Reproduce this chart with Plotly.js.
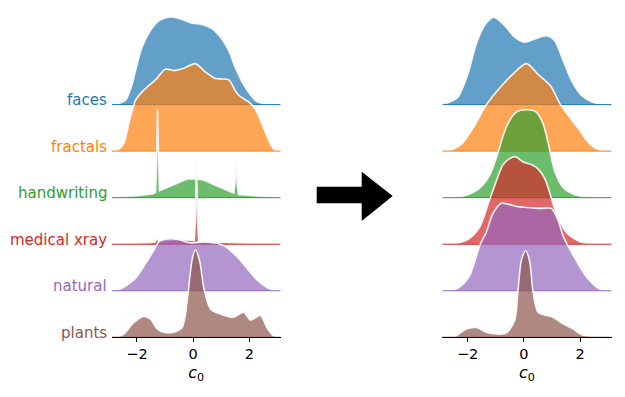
<!DOCTYPE html>
<html>
<head>
<meta charset="utf-8">
<script src="https://cdn.plot.ly/plotly-3.0.1.min.js"></script>
<style>
  html, body { margin: 0; padding: 0; background: #fff; }
  #chart { width: 625px; height: 397px; }
</style>
</head>
<body>
<div id="chart"></div>
<script>
// categories, top row first
var categories = ["faces", "fractals", "handwriting", "medical xray", "natural", "plants"];
var colors = ["#1f77b4", "#ff7f0e", "#2ca02c", "#d62728", "#9467bd", "#8c564b"];
var fills = ["rgba(31,119,180,0.7)", "rgba(255,127,14,0.7)", "rgba(44,160,44,0.7)",
             "rgba(214,39,40,0.7)", "rgba(148,103,189,0.7)", "rgba(140,86,75,0.7)"];
var tickVals = [-2, 0, 2];
var tickText = ["\u22122", "0", "2"];

// before (left panel) density curves
var xFacesL = [-2.9, -2.7, -2.41, -2.2, -2.05, -1.82, -1.52, -1.22, -0.99, -0.69, -0.39, -0.04, 0.32, 0.68, 0.97, 1.27, 1.5, 1.86, 2.22, 2.57, 2.9, 3.12];
var dFacesL = [0, 0.02, 0.09, 0.38, 0.73, 1.23, 1.59, 1.80, 1.86, 1.88, 1.83, 1.75, 1.72, 1.63, 1.45, 1.16, 0.80, 0.37, 0.09, 0.01, 0, 0];

var xFractalsL = [-2.9, -2.7, -2.47, -2.29, -2.05, -1.76, -1.34, -0.99, -0.69, -0.33, 0.08, 0.44, 0.79, 1.03, 1.27, 1.57, 1.86, 1.98, 2.22, 2.45, 2.75, 2.93, 3.12];
var dFractalsL = [0, 0.02, 0.16, 0.59, 1.09, 1.31, 1.53, 1.76, 1.73, 1.78, 1.88, 1.70, 1.56, 1.55, 1.53, 1.24, 1.10, 1.06, 0.90, 0.59, 0.16, 0.01, 0];

var xHandL = [-2.9, -2.7, -2.0, -1.76, -1.45, -1.34, -1.31, -1.27, -1.23, -1.2, -1.16, -0.93, -0.57, -0.21, 0.12, 0.38, 0.85, 1.15, 1.33, 1.45, 1.49, 1.53, 1.57, 1.61, 1.8, 2.2, 2.7, 3.12];
var dHandL = [0, 0.02, 0.04, 0.06, 0.08, 0.11, 0.5, 1.9, 0.5, 0.14, 0.16, 0.22, 0.32, 0.40, 0.40, 0.38, 0.25, 0.17, 0.13, 0.10, 0.3, 0.88, 0.3, 0.07, 0.06, 0.04, 0.02, 0];

var xMedL = [-2.9, -2.0, -1.5, -1.35, -1.28, -1.22, -1.0, -0.6, -0.2, 0.04, 0.08, 0.12, 0.16, 0.2, 0.5, 1.0, 1.5, 2.0, 2.5, 3.12];
var dMedL = [0, 0.01, 0.03, 0.05, 0.14, 0.06, 0.08, 0.10, 0.09, 0.08, 0.5, 1.89, 0.5, 0.06, 0.05, 0.04, 0.02, 0.01, 0, 0];

var xNatL = [-2.9, -2.59, -2.11, -1.76, -1.40, -1.22, -1.05, -0.75, -0.45, -0.1, 0.38, 0.85, 1.15, 1.44, 1.57, 1.92, 2.28, 2.63, 2.9, 3.12];
var dNatL = [0, 0.04, 0.23, 0.52, 0.87, 1.05, 1.10, 1.12, 1.09, 1.03, 1.05, 1.02, 0.95, 0.80, 0.73, 0.48, 0.23, 0.07, 0.01, 0];

var xPlantsL = [-2.9, -2.7, -2.47, -2.11, -1.76, -1.52, -1.28, -1.05, -0.69, -0.39, -0.21, -0.04, 0.08, 0.23, 0.38, 0.62, 0.97, 1.44, 1.80, 2.04, 2.40, 2.63, 2.87, 3.12];
var dPlantsL = [0, 0.01, 0.07, 0.32, 0.45, 0.39, 0.18, 0.11, 0.11, 0.21, 0.79, 1.65, 1.88, 1.65, 1.07, 0.61, 0.50, 0.43, 0.54, 0.37, 0.47, 0.21, 0.03, 0];

// after (right panel) density curves
var xFacesR = [-2.9, -2.70, -2.35, -1.99, -1.69, -1.40, -1.07, -0.69, -0.33, 0.02, 0.38, 0.80, 1.09, 1.39, 1.69, 2.04, 2.40, 2.75, 3.12];
var dFacesR = [0, 0.04, 0.16, 0.66, 1.31, 1.70, 1.88, 1.70, 1.45, 1.34, 1.41, 1.48, 1.38, 0.95, 0.52, 0.20, 0.06, 0.01, 0];

var xFractalsR = [-2.9, -2.6, -2.2, -1.8, -1.33, -0.8, -0.4, 0.09, 0.5, 0.95, 1.3, 1.95, 2.35, 2.7, 3.12];
var dFractalsR = [0, 0.02, 0.16, 0.5, 1.0, 1.4, 1.65, 1.88, 1.65, 1.4, 1.0, 0.47, 0.15, 0.02, 0];

var xHandR = [-2.9, -2.5, -2.2, -1.93, -1.58, -1.22, -0.93, -0.75, -0.57, -0.27, 0.14, 0.44, 0.68, 0.91, 1.09, 1.39, 1.74, 2.05, 2.4, 3.12];
var dHandR = [0, 0.01, 0.03, 0.08, 0.2, 0.48, 0.95, 1.31, 1.59, 1.84, 1.89, 1.84, 1.59, 1.05, 0.58, 0.22, 0.08, 0.03, 0.01, 0];

var xMedR = [-2.9, -2.4, -2.0, -1.58, -1.25, -0.98, -0.75, -0.51, -0.3, -0.04, 0.3, 0.5, 0.75, 0.95, 1.15, 1.51, 1.98, 2.4, 3.12];
var dMedR = [0, 0.02, 0.1, 0.36, 0.9, 1.36, 1.7, 1.84, 1.88, 1.77, 1.70, 1.62, 1.40, 1.04, 0.66, 0.25, 0.06, 0.01, 0];

var xNatR = [-2.9, -2.58, -2.29, -1.93, -1.55, -1.34, -1.10, -0.80, -0.27, 0.09, 0.56, 0.97, 1.21, 1.39, 1.58, 2.22, 2.58, 2.8, 3.12];
var dNatR = [0, 0.01, 0.08, 0.32, 1.0, 1.25, 1.66, 1.88, 1.81, 1.79, 1.77, 1.77, 1.52, 1.18, 0.95, 0.30, 0.08, 0.01, 0];

var xPlantsR = [-2.9, -2.41, -2.05, -1.69, -1.34, -0.98, -0.63, -0.33, -0.21, -0.09, 0.06, 0.2, 0.32, 0.5, 0.8, 1.03, 1.39, 1.74, 2.04, 2.5, 3.12];
var dPlantsR = [0, 0.03, 0.18, 0.21, 0.11, 0.07, 0.09, 0.36, 1.0, 1.65, 1.86, 1.65, 1.0, 0.54, 0.47, 0.43, 0.29, 0.18, 0.06, 0.01, 0];

var left = [[xFacesL, dFacesL], [xFractalsL, dFractalsL], [xHandL, dHandL], [xMedL, dMedL], [xNatL, dNatL], [xPlantsL, dPlantsL]];
var right = [[xFacesR, dFacesR], [xFractalsR, dFractalsR], [xHandR, dHandR], [xMedR, dMedR], [xNatR, dNatR], [xPlantsR, dPlantsR]];
var spiky = [false, false, true, true, false, false];

var data = [];
function addRidges(curves, xa, ya, isRight) {
  for (var i = 0; i < curves.length; i++) {
    var xs = curves[i][0], ds = curves[i][1];
    var off = curves.length - 1 - i;
    var top = ds.map(function(d){ return d + off; });
    var base = xs.map(function(){ return off; });
    var shape = (spiky[i] && !isRight) ? 'linear' : 'spline';
    // filled area
    data.push({
      x: xs.concat(xs.slice().reverse()),
      y: top.concat(base),
      xaxis: xa, yaxis: ya,
      type: 'scatter', mode: 'lines',
      fill: 'toself', fillcolor: fills[i],
      line: {width: 0, shape: shape, smoothing: 0.8},
      hoverinfo: 'skip'
    });
    // white outline
    data.push({
      x: xs, y: top, xaxis: xa, yaxis: ya,
      type: 'scatter', mode: 'lines',
      line: {color: 'rgba(250,250,250,0.95)', width: 1.6, shape: shape, smoothing: 0.8},
      hoverinfo: 'skip'
    });
    // baseline
    data.push({
      x: [xs[0], xs[xs.length - 1]], y: [off, off], xaxis: xa, yaxis: ya,
      type: 'scatter', mode: 'lines',
      line: {color: colors[i], width: 1},
      hoverinfo: 'skip'
    });
  }
}
addRidges(left, 'x', 'y', false);
addRidges(right, 'x2', 'y2', true);

var annotations = categories.map(function(c, i){
  return {
    text: c, xref: 'paper', yref: 'y',
    x: 0.1745, y: categories.length - 1 - i,
    xanchor: 'right', yanchor: 'bottom', yshift: -6.5,
    showarrow: false,
    font: {family: 'DejaVu Sans', size: 15, color: colors[i]}
  };
});

var xcommon = {
  range: [-2.9, 3.12],
  tickvals: tickVals, ticktext: tickText,
  ticks: 'outside', ticklen: 3.5, tickwidth: 1, tickcolor: '#000',
  showline: true, linecolor: '#000', linewidth: 1,
  showgrid: false, zeroline: false,
  tickfont: {family: 'DejaVu Sans', size: 14.5, color: '#000'},
  title: {text: '<i>c</i><sub>0</sub>', font: {family: 'DejaVu Sans', size: 16, color: '#000'}, standoff: 5}
};

var layout = {
  width: 625, height: 397,
  margin: {l: 0, r: 0, t: 0, b: 0},
  paper_bgcolor: '#fff', plot_bgcolor: '#fff',
  showlegend: false,
  xaxis: Object.assign({domain: [0.1787, 0.4491], anchor: 'y'}, xcommon),
  xaxis2: Object.assign({domain: [0.7077, 0.9787], anchor: 'y2'}, xcommon),
  yaxis: {domain: [0.1504, 1], range: [0, 7.247], visible: false},
  yaxis2: {domain: [0.1504, 1], range: [0, 7.247], visible: false, anchor: 'x2'},
  annotations: annotations,
  shapes: [{
    type: 'path', xref: 'paper', yref: 'paper',
    path: 'M0.5067,0.5297 L0.5787,0.5297 L0.5787,0.5675 L0.6283,0.5063 L0.5787,0.4433 L0.5787,0.4879 L0.5067,0.4879 Z',
    fillcolor: '#000', line: {width: 0}
  }]
};

Plotly.newPlot('chart', data, layout, {displayModeBar: false, staticPlot: true});
</script>
</body>
</html>
